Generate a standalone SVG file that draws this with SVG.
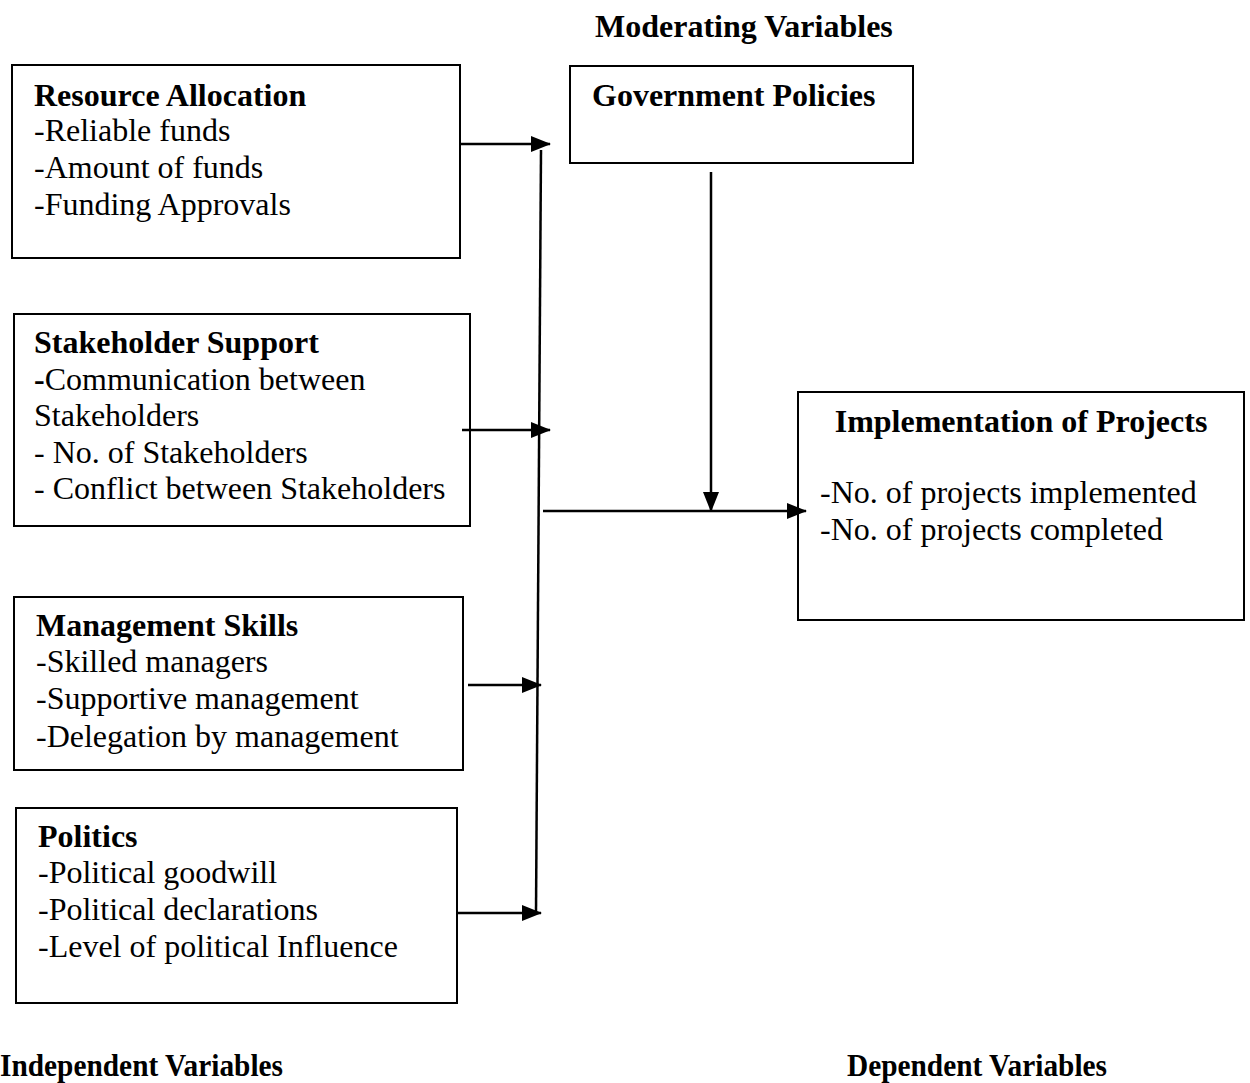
<svg xmlns="http://www.w3.org/2000/svg" width="1250" height="1083" viewBox="0 0 1250 1083">
<style>
.box{fill:#fff;stroke:#000;stroke-width:2}
text{font-family:"Liberation Serif","Times New Roman",serif;font-size:32px;fill:#000}
.b{font-weight:bold}
.c{stroke:#000;stroke-width:2.5;fill:none}
</style>
<defs>
<marker id="ah" markerUnits="userSpaceOnUse" markerWidth="20" markerHeight="20" viewBox="0 0 20 20" refX="19" refY="10" orient="auto">
<path d="M0,2 L20,10 L0,18 Z" fill="#000"/>
</marker>
</defs>
<rect width="1250" height="1083" fill="#fff"/>
<text class="b" x="595" y="37">Moderating Variables</text>
<g id="n-resource">
<rect class="box" x="12" y="65" width="448" height="193"/>
<text class="b" x="34" y="106">Resource Allocation</text>
<text x="34" y="141">-Reliable funds</text>
<text x="34" y="178">-Amount of funds</text>
<text x="34" y="215">-Funding Approvals</text>
</g>
<g id="n-gov">
<rect class="box" x="570" y="66" width="343" height="97"/>
<text class="b" x="592" y="106">Government Policies</text>
</g>
<g id="n-stake">
<rect class="box" x="14" y="314" width="456" height="212"/>
<text class="b" x="34" y="353">Stakeholder Support</text>
<text x="34" y="390"><tspan class="b">-</tspan>Communication between</text>
<text x="34" y="426">Stakeholders</text>
<text x="34" y="463">- No. of Stakeholders</text>
<text x="34" y="499">- Conflict between Stakeholders</text>
</g>
<g id="n-impl">
<rect class="box" x="798" y="392" width="446" height="228"/>
<text class="b" x="1021" y="432" text-anchor="middle">Implementation of Projects</text>
<text x="820" y="503">-No. of projects implemented</text>
<text x="820" y="540">-No. of projects completed</text>
</g>
<g id="n-mgmt">
<rect class="box" x="14" y="597" width="449" height="173"/>
<text class="b" x="36" y="636">Management Skills</text>
<text x="36" y="672">-Skilled managers</text>
<text x="36" y="709">-Supportive management</text>
<text x="36" y="747">-Delegation by management</text>
</g>
<g id="n-politics">
<rect class="box" x="16" y="808" width="441" height="195"/>
<text class="b" x="38" y="847">Politics</text>
<text x="38" y="883">-Political goodwill</text>
<text x="38" y="920">-Political declarations</text>
<text x="38" y="957">-Level of political Influence</text>
</g>
<text class="b" x="0" y="1076" textLength="283" lengthAdjust="spacingAndGlyphs">Independent Variables</text>
<text class="b" x="847" y="1076" textLength="260" lengthAdjust="spacingAndGlyphs">Dependent Variables</text>
<g id="connectors">
<line class="c" x1="541" y1="150" x2="536" y2="912"/>
<line class="c" x1="460" y1="144" x2="550" y2="144" marker-end="url(#ah)"/>
<line class="c" x1="462" y1="430" x2="550" y2="430" marker-end="url(#ah)"/>
<line class="c" x1="468" y1="685" x2="541" y2="685" marker-end="url(#ah)"/>
<line class="c" x1="457" y1="913" x2="541" y2="913" marker-end="url(#ah)"/>
<line class="c" x1="543" y1="511" x2="806" y2="511" marker-end="url(#ah)"/>
<line class="c" x1="711" y1="172" x2="711" y2="511" marker-end="url(#ah)"/>
</g>
</svg>
